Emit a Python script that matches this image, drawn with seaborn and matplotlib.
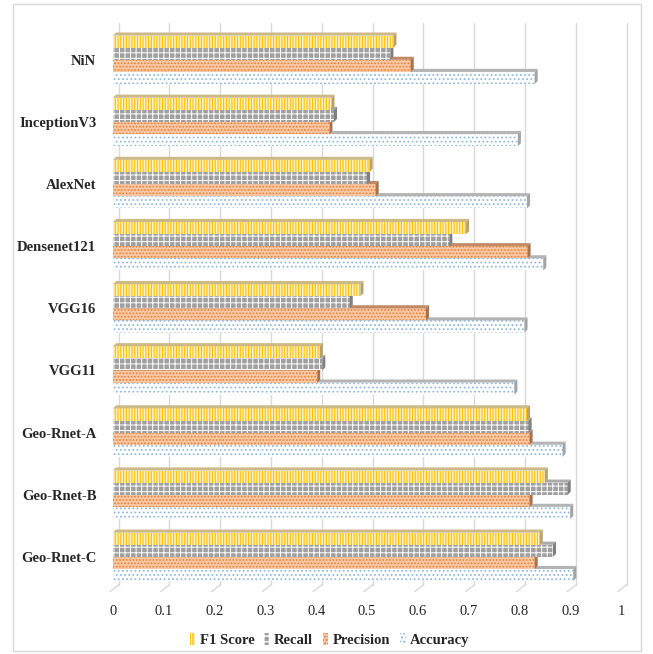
import pandas as pd
import matplotlib.pyplot as plt
import seaborn as sns
from matplotlib.patches import Patch, Polygon, Rectangle

# data
models = ['NiN', 'InceptionV3', 'AlexNet', 'Densenet121', 'VGG16', 'VGG11',
          'Geo-Rnet-A', 'Geo-Rnet-B', 'Geo-Rnet-C']
f1_score = [0.552, 0.430, 0.505, 0.695, 0.487, 0.407, 0.815, 0.850, 0.840]
recall = [0.546, 0.435, 0.500, 0.662, 0.466, 0.412, 0.818, 0.895, 0.866]
precision = [0.586, 0.426, 0.517, 0.816, 0.616, 0.402, 0.820, 0.820, 0.830]
accuracy = [0.830, 0.797, 0.815, 0.847, 0.810, 0.790, 0.885, 0.900, 0.906]
metrics = ['F1 Score', 'Recall', 'Precision', 'Accuracy']
ticks = [0, 0.1, 0.2, 0.3, 0.4, 0.5, 0.6, 0.7, 0.8, 0.9, 1]

df = pd.DataFrame({'Model': models, 'F1 Score': f1_score, 'Recall': recall,
                   'Precision': precision, 'Accuracy': accuracy})
df = df.melt(id_vars='Model', var_name='Metric', value_name='Score')

sns.set_theme(style='white')
plt.rcParams['font.family'] = ['Liberation Serif', 'DejaVu Serif']

# face colour, hatch colour, hatch, side colour, top colour
styles = {
    'F1 Score': ('#fff0bf', '#ffc000', '||||||', '#b9a26a', '#cdb987'),
    'Recall': ('#a0a0a0', '#ffffff', '+++', '#808080', '#ababab'),
    'Precision': ('#f9c9a6', '#ed7d31', '.....', '#a8724e', '#c08a66'),
    'Accuracy': ('#ffffff', '#8fb9e2', '....', '#a3a3a3', '#b4b4b4'),
}

fig = plt.figure(figsize=(6.53, 6.54), dpi=100)
ax = fig.add_axes([0.173, 0.101, 0.778, 0.855])

sns.barplot(data=df, y='Model', x='Score', hue='Metric', hue_order=metrics,
            order=models, orient='h', width=0.78, ax=ax, legend=False)

dx, dy = 0.006, 0.05
for i, (metric, cont) in enumerate(zip(metrics, ax.containers)):
    face, hcol, hatch, side, top = styles[metric]
    z = 10 - i
    for p in cont.patches:
        p.set_facecolor(face)
        p.set_edgecolor(hcol)
        p.set_linewidth(0)
        p.set_hatch(hatch)
        if hasattr(p, 'set_hatch_linewidth'):
            p.set_hatch_linewidth(0.7 if metric == 'Recall' else 0.8)
        p.set_zorder(z)
        x0, y0, w, h = p.get_x(), p.get_y(), p.get_width(), p.get_height()
        ax.add_patch(Polygon([(x0, y0), (x0 + dx, y0 - dy), (x0 + w + dx, y0 - dy), (x0 + w, y0)],
                             closed=True, facecolor=top, edgecolor='none', zorder=z))
        ax.add_patch(Polygon([(x0 + w, y0), (x0 + w + dx, y0 - dy), (x0 + w + dx, y0 + h - dy), (x0 + w, y0 + h)],
                             closed=True, facecolor=side, edgecolor='none', zorder=z))

ax.set_xlim(0, 1.0)
ax.set_ylim(8.5, -0.5)
ax.set_xticks(ticks)
ax.set_xticklabels([f'{t:g}' for t in ticks], fontsize=10.5)
ax.set_xlabel('')
ax.set_ylabel('')
for lab in ax.get_yticklabels():
    lab.set_fontweight('bold')
    lab.set_fontsize(10.5)
ax.tick_params(axis='y', length=0, pad=12)
ax.tick_params(axis='x', length=0, pad=12)

# back-wall gridlines with the little floor diagonals
for t in ticks:
    ax.plot([t + 0.011, t + 0.011], [-0.6, 8.45], color='#d9d9d9', lw=1.0, zorder=0, clip_on=False)
    ax.plot([t + 0.011, t - 0.006], [8.45, 8.56], color='#d9d9d9', lw=1.0, zorder=0, clip_on=False)
for s in ax.spines.values():
    s.set_visible(False)

handles = [Patch(facecolor=styles[m][0], edgecolor=styles[m][1], hatch=styles[m][2], linewidth=0)
           for m in metrics]
fig.legend(handles, metrics, loc='center', bbox_to_anchor=(0.505, 0.021), ncol=4,
           frameon=False, prop={'weight': 'bold', 'size': 10.5}, handlelength=0.35,
           handleheight=0.8, handletextpad=0.3, columnspacing=0.7)

fig.add_artist(Rectangle((0.02, 0.004), 0.962, 0.99, transform=fig.transFigure,
                         fill=False, edgecolor='#d9d9d9', linewidth=1.0))

fig.savefig('out.png', dpi=100)
